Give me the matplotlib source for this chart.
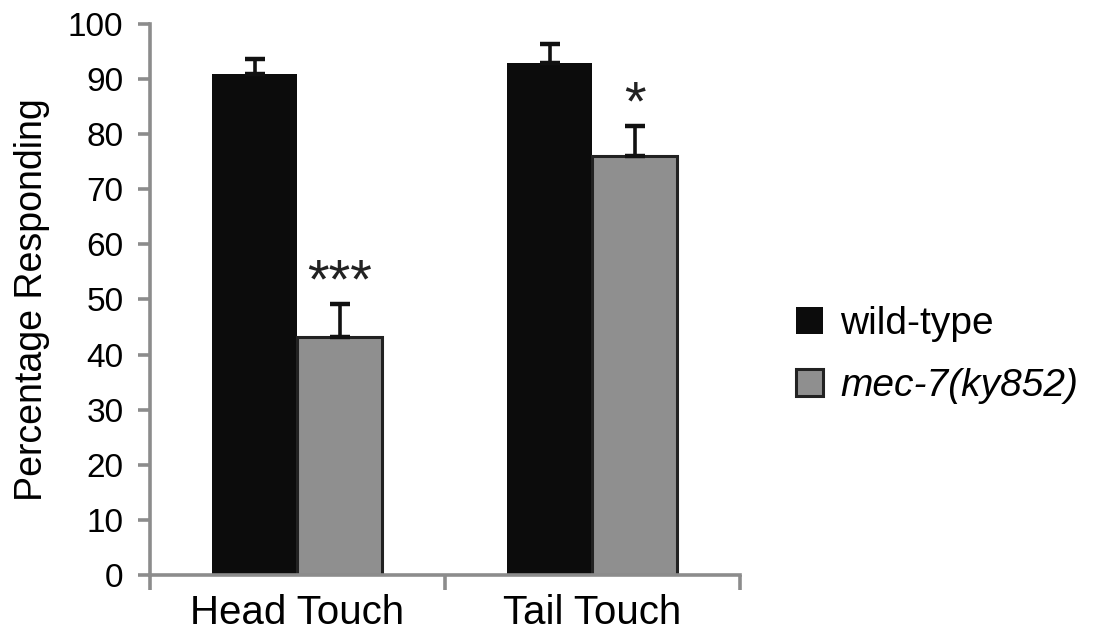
import matplotlib
matplotlib.use("Agg")
import matplotlib.pyplot as plt
import numpy as np
from matplotlib.patches import Patch

plt.rcParams['font.family'] = ['Liberation Sans', 'DejaVu Sans']

groups = ["Head Touch", "Tail Touch"]
wild_type = [90.9, 92.9]
wild_type_err = [2.8, 3.5]
mec7 = [43.1, 76.1]
mec7_err = [6.0, 5.4]
stars = ["***", "*"]

axis_grey = "#8c8c8c"

fig = plt.figure(figsize=(10.94, 6.35), dpi=100)
ax = fig.add_axes([0.137, 0.0945, 0.539, 0.868])

x = np.arange(len(groups))
w = 0.288
ax.bar(x - w / 2, wild_type, w, color="#0c0c0c", edgecolor="#0c0c0c",
       linewidth=0, zorder=2)
ax.bar(x + w / 2, mec7, w, color="#8f8f8f", edgecolor="#222222",
       linewidth=2.2, zorder=2)

# upper-only error bars
err_kw = dict(fmt="none", ecolor="#111111", elinewidth=2.6, capsize=7,
              capthick=3.2, zorder=3)
ax.errorbar(x - w / 2, wild_type, yerr=[np.zeros(2), wild_type_err], **err_kw)
ax.errorbar(x + w / 2, mec7, yerr=[np.zeros(2), mec7_err], **err_kw)

for xi, top, e, s in zip(x, mec7, mec7_err, stars):
    ax.annotate(s, (xi + w / 2, top + e), xytext=(0, -4),
                textcoords="offset points", ha="center", va="bottom",
                fontsize=40, color="#222222")

ax.set_xlim(-0.5, 1.5)
ax.set_ylim(0, 100)
ax.set_yticks(np.arange(0, 101, 10))
ax.set_xticks(x)
ax.set_xticklabels(groups)
ax.set_xticks([-0.5, 0.5, 1.5], minor=True)

for side in ("top", "right"):
    ax.spines[side].set_visible(False)
for side in ("left", "bottom"):
    ax.spines[side].set_color(axis_grey)
    ax.spines[side].set_linewidth(2.6)

ax.tick_params(axis="y", direction="out", length=9, width=2.6,
               color=axis_grey, labelsize=24, pad=10)
ax.tick_params(axis="x", which="major", length=0, labelsize=29, pad=14)
ax.tick_params(axis="x", which="minor", direction="out", length=11,
               width=2.6, color=axis_grey)

ax.set_ylabel("Percentage Responding", fontsize=27)
ax.yaxis.set_label_coords(-0.17, 0.5)

handles = [Patch(facecolor="#0c0c0c", edgecolor="#0c0c0c", linewidth=0),
           Patch(facecolor="#8f8f8f", edgecolor="#222222", linewidth=2.2)]
leg = fig.legend(handles, ["wild-type", "mec-7(ky852)"], loc="center left",
                 bbox_to_anchor=(0.713, 0.441), frameon=False, fontsize=28,
                 handlelength=0.7, handleheight=0.7, handletextpad=0.45,
                 labelspacing=0.68, borderaxespad=0)
leg.get_texts()[1].set_style("italic")

fig.savefig("out.png", dpi=100)
